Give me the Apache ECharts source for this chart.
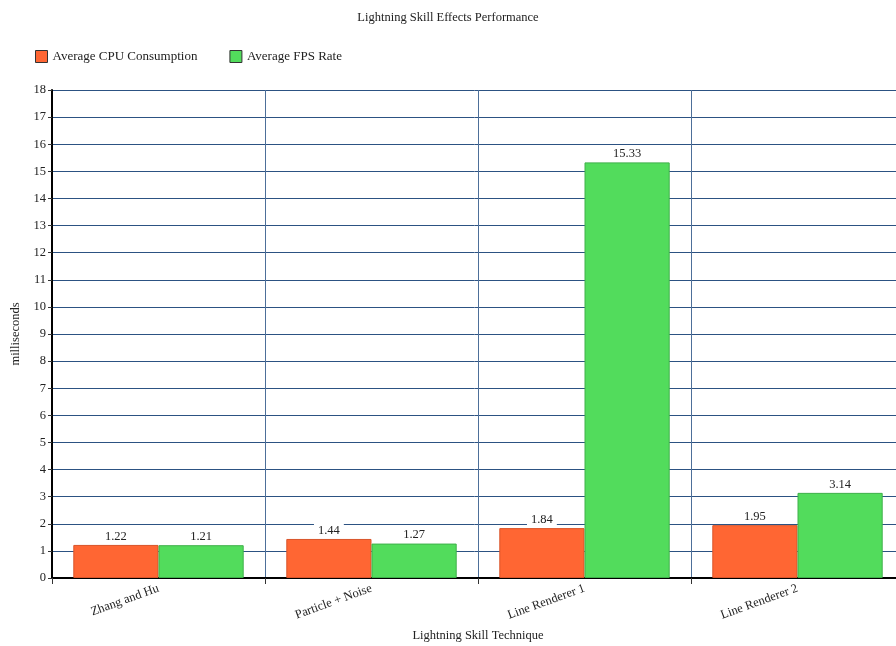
<!DOCTYPE html>
<html><head><meta charset="utf-8">
<script src="https://cdn.jsdelivr.net/npm/echarts@6/dist/echarts.min.js"></script>
<style>html,body{margin:0;padding:0;background:#fff}#c{width:896px;height:646px}</style>
</head><body><div id="c"></div>
<script>
const categories = ['Zhang and Hu', 'Particle + Noise', 'Line Renderer 1', 'Line Renderer 2'];
const cpuValues = [1.22, 1.44, 1.84, 1.95];
const fpsValues = [1.21, 1.27, 15.33, 3.14];
const seriesNames = ['Average CPU Consumption', 'Average FPS Rate'];
const FONT = '"Liberation Serif", "DejaVu Serif", serif';
const chart = echarts.init(document.getElementById('c'));
const labelCfg = {
  show: true, position: 'top', distance: 2, color: '#222', fontFamily: FONT, fontSize: 12.5,
  backgroundColor: '#fff', padding: [1, 4, 0, 4],
  formatter: p => p.value.toFixed(2)
};
chart.setOption({
  animation: false,
  textStyle: { fontFamily: FONT },
  title: { text: 'Lightning Skill Effects Performance', left: 'center', top: 6,
    textStyle: { fontFamily: FONT, fontSize: 12.5, fontWeight: 'normal', color: '#222' } },
  legend: { left: 30, top: 45, itemWidth: 12, itemHeight: 12, itemGap: 32,
    textStyle: { fontFamily: FONT, fontSize: 13, color: '#222' }, icon: 'rect',
    itemStyle: { borderColor: '#333', borderWidth: 1 } },
  grid: { left: 52, top: 90, width: 852, height: 488, containLabel: false, outerBoundsMode: 'none' },
  xAxis: {
    type: 'category', data: categories, name: 'Lightning Skill Technique',
    nameLocation: 'middle', nameGap: 51,
    nameTextStyle: { fontFamily: FONT, fontSize: 12.5, color: '#222' },
    axisLine: { lineStyle: { color: '#000', width: 2 } },
    axisTick: { show: true, length: 6, lineStyle: { color: '#333' } },
    splitLine: { show: true, lineStyle: { color: '#4d6f99', width: 1 } },
    axisLabel: { rotate: 20, color: '#222', fontFamily: FONT, fontSize: 12.5, margin: 10, interval: 0 }
  },
  yAxis: {
    type: 'value', min: 0, max: 18, interval: 1, name: 'milliseconds',
    nameLocation: 'middle', nameGap: 25,
    nameTextStyle: { fontFamily: FONT, fontSize: 12.5, color: '#222' },
    axisLine: { show: true, lineStyle: { color: '#000', width: 2 } },
    axisTick: { show: true, length: 4, lineStyle: { color: '#333' } },
    splitLine: { show: true, lineStyle: { color: '#2c5282', width: 1 } },
    axisLabel: { color: '#222', fontFamily: FONT, fontSize: 12.5, margin: 6 }
  },
  series: [
    { name: seriesNames[0], type: 'bar', data: cpuValues, barGap: '0%', barCategoryGap: '20%',
      itemStyle: { color: '#ff6633', borderColor: '#d9552a', borderWidth: 1 }, label: labelCfg },
    { name: seriesNames[1], type: 'bar', data: fpsValues,
      itemStyle: { color: '#52dc5c', borderColor: '#3fb04a', borderWidth: 1 }, label: labelCfg }
  ]
});
</script></body></html>
